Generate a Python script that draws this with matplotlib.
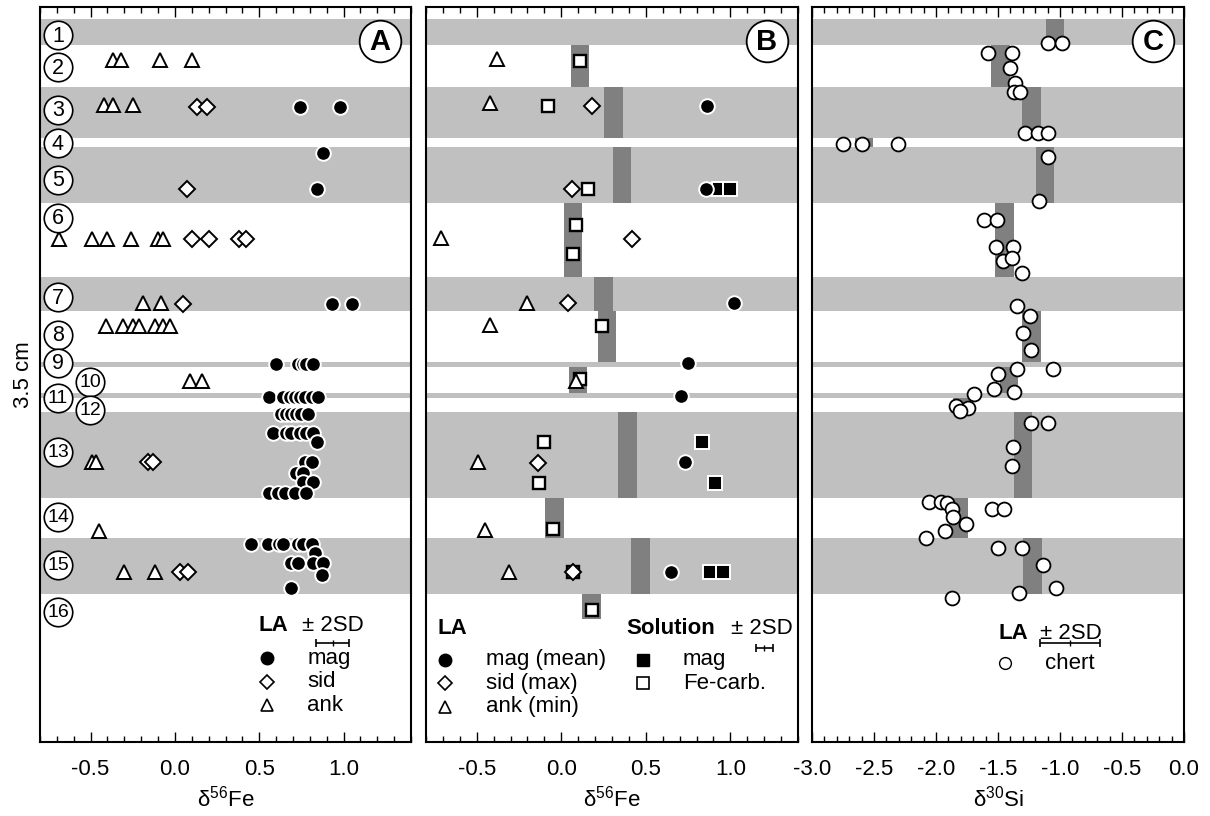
import matplotlib
matplotlib.use("Agg")
import matplotlib.pyplot as plt
import matplotlib.transforms as mtransforms
from matplotlib.ticker import MultipleLocator

plt.rcParams['font.family'] = ['Liberation Sans', 'DejaVu Sans']
plt.rcParams['mathtext.default'] = 'regular'

# ---------------- layer structure (depth units, top -> bottom) ----------------
layer_ids = list(range(1, 17))
layer_top = [19, 45, 87, 138, 147, 203, 277, 311, 362, 367, 393, 398, 412, 498, 538, 594]
layer_bot = [45, 87, 138, 147, 203, 277, 311, 362, 367, 393, 398, 412, 498, 538, 594, 742]
gray_layers = [1, 3, 5, 7, 9, 11, 13, 15]
label_depth = [35, 67, 110, 143, 180, 218, 297, 335, 363, 382, 398, 410, 452, 517, 565, 612]
label_shifted = [10, 12]

# ---------------- Panel A: LA d56Fe ----------------
A_mag_x = [0.74, 0.98, 0.88, 0.84, 0.93, 1.05,
           0.60, 0.73, 0.76, 0.78, 0.82,
           0.56, 0.64, 0.68, 0.71, 0.74, 0.77, 0.81, 0.85,
           0.63, 0.66, 0.69, 0.72, 0.75, 0.79,
           0.58, 0.66, 0.69, 0.74, 0.78, 0.82, 0.84, 0.77, 0.81, 0.72, 0.76, 0.76, 0.82,
           0.56, 0.61, 0.65, 0.71, 0.78,
           0.45, 0.55, 0.62, 0.64, 0.73, 0.76, 0.81, 0.83, 0.69, 0.73, 0.82, 0.88, 0.87, 0.69]
A_mag_y = [107, 107, 153, 189, 304, 304,
           364, 364, 364, 364, 364,
           397, 397, 397, 397, 397, 397, 397, 397,
           414, 414, 414, 414, 414, 414,
           433, 433, 433, 433, 433, 433, 442, 462, 462, 473, 473, 482, 482,
           493, 493, 493, 493, 493,
           544, 544, 544, 544, 544, 544, 544, 553, 563, 563, 563, 563, 575, 588]
A_sid_x = [0.13, 0.19, 0.07, 0.10, 0.20, 0.38, 0.42, 0.05, -0.16, -0.13, 0.03, 0.08]
A_sid_y = [107, 107, 189, 239, 239, 239, 239, 304, 462, 462, 572, 572]
A_ank_x = [-0.37, -0.32, -0.09, 0.10, -0.42, -0.37, -0.25,
           -0.69, -0.49, -0.40, -0.26, -0.10, -0.07, -0.19, -0.08,
           -0.41, -0.31, -0.25, -0.21, -0.12, -0.07, -0.03,
           0.09, 0.16, -0.49, -0.47, -0.45, -0.30, -0.12]
A_ank_y = [60, 60, 60, 60, 105, 105, 105,
           239, 239, 239, 239, 239, 239, 303, 303,
           326, 326, 326, 326, 326, 326, 326,
           381, 381, 462, 462, 531, 572, 572]
A_2sd = 0.10

# ---------------- Panel B: LA + solution d56Fe ----------------
B_mean_layer = [2, 3, 5, 6, 7, 8, 10, 13, 14, 15, 16]
B_mean_val = [0.11, 0.31, 0.36, 0.07, 0.25, 0.27, 0.10, 0.39, -0.04, 0.47, 0.18]
B_mean_bottom16 = 619
B_mag_x = [0.86, 0.855, 1.02, 0.75, 0.71, 0.73, 0.65]
B_mag_y = [106, 189, 303, 363, 396, 462, 572]
B_sid_x = [0.18, 0.065, 0.42, 0.04, -0.14, 0.07]
B_sid_y = [106, 189, 239, 303, 463, 572]
B_ank_x = [-0.38, -0.42, -0.71, -0.20, -0.42, 0.09, -0.49, -0.45, -0.31]
B_ank_y = [59, 103, 238, 303, 325, 381, 462, 530, 572]
B_solmag_x = [0.93, 1.00, 0.83, 0.91, 0.88, 0.955]
B_solmag_y = [189, 189, 442, 483, 572, 572]
B_carb_x = [0.11, -0.08, 0.16, 0.09, 0.07, 0.24, 0.11, -0.10, -0.13, -0.05, 0.07, 0.18]
B_carb_y = [61, 106, 189, 225, 254, 326, 379, 442, 483, 529, 572, 610]
B_2sd = 0.05

# ---------------- Panel C: LA d30Si chert ----------------
C_mean_layer = [1, 2, 3, 4, 5, 6, 8, 10, 12, 13, 14, 15]
C_mean_val = [-1.04, -1.48, -1.23, -2.58, -1.12, -1.45, -1.23, -1.41, -1.79, -1.30, -1.82, -1.22]
C_x = [-1.10, -0.98,
       -1.58, -1.39, -1.40, -1.36, -1.37, -1.32,
       -1.28, -1.18, -1.10,
       -2.75, -2.60, -2.31,
       -1.10, -1.17,
       -1.61, -1.51, -1.52, -1.38, -1.46, -1.39, -1.31,
       -1.35,
       -1.24, -1.30, -1.23,
       -1.35, -1.06, -1.50, -1.53, -1.37,
       -1.69,
       -1.84, -1.74, -1.81,
       -1.23, -1.10, -1.38, -1.39,
       -2.06, -1.96, -1.91, -1.87, -1.86, -1.76, -1.93, -2.08, -1.55, -1.45,
       -1.50, -1.31, -1.14, -1.03, -1.33, -1.87]
C_y = [43, 43,
       53, 53, 68, 83, 92, 92,
       133, 133, 133,
       144, 144, 144,
       157, 201,
       220, 220, 247, 247, 261, 258, 273,
       306,
       316, 333, 350,
       369, 369, 374, 389, 392,
       394,
       406, 408, 411,
       423, 423, 447, 466,
       502, 502, 503, 509, 517, 524, 531, 538, 509, 509,
       548, 548, 565, 588, 593, 598]
C_2sd = 0.24

LIGHT = '#c0c0c0'
DARK = '#808080'

fig = plt.figure(figsize=(12.1, 8.16), dpi=100)
bottom = 1 - 742 / 816
height = 735 / 816
axA = fig.add_axes([40 / 1210, bottom, 371 / 1210, height])
axB = fig.add_axes([426 / 1210, bottom, 372 / 1210, height])
axC = fig.add_axes([812 / 1210, bottom, 372 / 1210, height])

FS = 16
ms_pt = 10.5

def style_axis(ax, xlim, xlabel, major, minor):
    ax.set_xlim(*xlim)
    ax.set_ylim(742, 7)
    ax.set_yticks([])
    ax.xaxis.set_major_locator(MultipleLocator(major))
    ax.xaxis.set_minor_locator(MultipleLocator(minor))
    ax.tick_params(axis='x', which='both', direction='in', top=True, bottom=True,
                   labelsize=FS, width=1.0, pad=12)
    ax.tick_params(axis='x', which='major', length=7)
    ax.tick_params(axis='x', which='minor', length=4)
    for s in ax.spines.values():
        s.set_linewidth(1.5)
    ax.set_xlabel(xlabel, fontsize=FS, labelpad=4)
    for lid, t, b in zip(layer_ids, layer_top, layer_bot):
        if lid in gray_layers:
            ax.axhspan(t, b, color=LIGHT, lw=0, zorder=0)

style_axis(axA, (-0.8, 1.4), 'δ$^{56}$Fe', 0.5, 0.1)
style_axis(axB, (-0.8, 1.4), 'δ$^{56}$Fe', 0.5, 0.1)
style_axis(axC, (-3.0, 0.0), 'δ$^{30}$Si', 0.5, 0.1)
axA.set_xticks([-0.5, 0.0, 0.5, 1.0])
axA.set_xticklabels(['-0.5', '0.0', '0.5', '1.0'])
axB.set_xticks([-0.5, 0.0, 0.5, 1.0])
axB.set_xticklabels(['-0.5', '0.0', '0.5', '1.0'])
axC.set_xticks([-3.0, -2.5, -2.0, -1.5, -1.0, -0.5, 0.0])
axC.set_xticklabels(['-3.0', '-2.5', '-2.0', '-1.5', '-1.0', '-0.5', '0.0'])
axA.set_ylabel('3.5 cm', fontsize=FS, labelpad=4)

# dark mean bars
def mean_bars(ax, layers, vals, width, extra_bottom=None):
    for lid, v in zip(layers, vals):
        t = layer_top[lid - 1]
        b = layer_bot[lid - 1]
        if lid == 16 and extra_bottom is not None:
            b = extra_bottom
        ax.fill_betweenx([t, b], v - width / 2, v + width / 2, color=DARK, lw=0, zorder=1)

mean_bars(axB, B_mean_layer, B_mean_val, 0.11, B_mean_bottom16)
mean_bars(axC, C_mean_layer, C_mean_val, 0.15)

def mag(ax, x, y, **kw):
    ax.plot(x, y, 'o', ms=ms_pt, mfc='black', mec='white', mew=1.4, ls='none', zorder=4, **kw)

def sid(ax, x, y, **kw):
    ax.plot(x, y, 'D', ms=8.3, mfc='white', mec='black', mew=1.4, ls='none', zorder=3, **kw)

def ank(ax, x, y, **kw):
    ax.plot(x, y, '^', ms=10, mfc='white', mec='black', mew=1.4, ls='none', zorder=3, **kw)

# Panel A data
ank(axA, A_ank_x, A_ank_y)
sid(axA, A_sid_x, A_sid_y)
for x, y in zip(A_mag_x, A_mag_y):
    mag(axA, [x], [y])

# Panel B data
axB.plot(B_carb_x, B_carb_y, 's', ms=9.3, mfc='white', mec='black', mew=1.7, ls='none', zorder=2)
axB.plot(B_solmag_x, B_solmag_y, 's', ms=10, mfc='black', mec='white', mew=1.4, ls='none', zorder=2)
sid(axB, B_sid_x, B_sid_y)
ank(axB, B_ank_x, B_ank_y)
mag(axB, B_mag_x, B_mag_y)

# Panel C data
axC.plot(C_x, C_y, 'o', ms=10, mfc='white', mec='black', mew=1.3, ls='none', zorder=3)

# layer number circles (panel A)
trA = mtransforms.blended_transform_factory(axA.transAxes, axA.transData)
for lid, yd in zip(layer_ids, label_depth):
    xf = 0.135 if lid in label_shifted else 0.0485
    axA.plot([xf], [yd], 'o', ms=20.5, mfc='white', mec='black', mew=1.2,
             transform=trA, zorder=10 + lid, clip_on=False)
    axA.text(xf, yd + 1, str(lid), transform=trA, ha='center', va='center',
             fontsize=15.5 if lid < 10 else 14, zorder=10.5 + lid)

# panel letters
for ax, letter in [(axA, 'A'), (axB, 'B'), (axC, 'C')]:
    tr = mtransforms.blended_transform_factory(ax.transAxes, ax.transData)
    ax.plot([0.916], [41], 'o', ms=30, mfc='white', mec='black', mew=1.3, transform=tr, zorder=20)
    ax.text(0.916, 42, letter, transform=tr, ha='center', va='center', fontsize=21,
            fontweight='bold', zorder=21)

# ---------------- legends ----------------
def leg_marker(ax, xf, yf, kind):
    opts = dict(transform=ax.transAxes, ls='none', clip_on=False, zorder=5)
    if kind == 'mag':
        ax.plot([xf], [yf], 'o', ms=9, mfc='black', mec='black', mew=1, **opts)
    elif kind == 'sid':
        ax.plot([xf], [yf], 'D', ms=7, mfc='white', mec='black', mew=1.2, **opts)
    elif kind == 'ank':
        ax.plot([xf], [yf], '^', ms=8, mfc='white', mec='black', mew=1.2, **opts)
    elif kind == 'solmag':
        ax.plot([xf], [yf], 's', ms=8, mfc='black', mec='black', mew=1, **opts)
    elif kind == 'carb':
        ax.plot([xf], [yf], 's', ms=8, mfc='white', mec='black', mew=1.2, **opts)
    elif kind == 'chert':
        ax.plot([xf], [yf], 'o', ms=8.5, mfc='white', mec='black', mew=1.0, **opts)

def scale_bar(ax, xc, half, yd):
    ax.errorbar([xc], [yd], xerr=[half], fmt='none', ecolor='black', elinewidth=1.2,
                capsize=3, capthick=1.2, zorder=5)
    ax.plot([xc], [yd], '|', ms=4, mec='black', mew=1.0, zorder=5)

# A
axA.text(0.590, 0.159, 'LA', transform=axA.transAxes, fontsize=FS, fontweight='bold', va='center')
axA.text(0.706, 0.159, '± 2SD', transform=axA.transAxes, fontsize=FS, va='center')
scale_bar(axA, 0.935, A_2sd, 643)
for yf, kind, lab in [(0.114, 'mag', 'mag'), (0.082, 'sid', 'sid'), (0.050, 'ank', 'ank')]:
    leg_marker(axA, 0.612, yf, kind)
    axA.text(0.720, yf, lab, transform=axA.transAxes, fontsize=FS, va='center')

# B
axB.text(0.032, 0.154, 'LA', transform=axB.transAxes, fontsize=FS, fontweight='bold', va='center')
axB.text(0.538, 0.154, 'Solution', transform=axB.transAxes, fontsize=FS, fontweight='bold', va='center')
axB.text(0.985, 0.154, '± 2SD', transform=axB.transAxes, fontsize=FS, va='center', ha='right')
scale_bar(axB, 1.20, B_2sd, 648)
for yf, kind, lab in [(0.112, 'mag', 'mag (mean)'), (0.080, 'sid', 'sid (max)'), (0.048, 'ank', 'ank (min)')]:
    leg_marker(axB, 0.051, yf, kind)
    axB.text(0.161, yf, lab, transform=axB.transAxes, fontsize=FS, va='center')
for yf, kind, lab in [(0.112, 'solmag', 'mag'), (0.080, 'carb', 'Fe-carb.')]:
    leg_marker(axB, 0.583, yf, kind)
    axB.text(0.691, yf, lab, transform=axB.transAxes, fontsize=FS, va='center')

# C
axC.text(0.500, 0.148, 'LA', transform=axC.transAxes, fontsize=FS, fontweight='bold', va='center')
axC.text(0.613, 0.148, '± 2SD', transform=axC.transAxes, fontsize=FS, va='center')
scale_bar(axC, -0.92, C_2sd, 643)
leg_marker(axC, 0.519, 0.107, 'chert')
axC.text(0.626, 0.107, 'chert', transform=axC.transAxes, fontsize=FS, va='center')

fig.savefig('out.png', dpi=100)
